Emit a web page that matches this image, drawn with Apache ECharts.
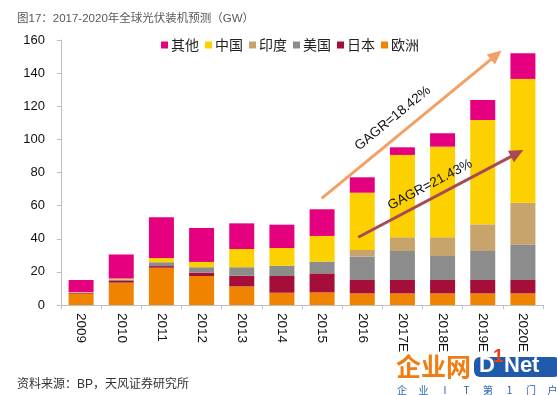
<!DOCTYPE html>
<html><head><meta charset="utf-8">
<script src="https://cdn.jsdelivr.net/npm/echarts@6/dist/echarts.min.js"></script>
<style>html,body{margin:0;padding:0;background:#fff}#c{width:557px;height:395px}</style>
</head><body><div id="c"></div>
<script>
// ---- data ----
const categories = ['2009','2010','2011','2012','2013','2014','2015','2016','2017E','2018E','2019E','2020E'];
const europe = [6.8, 13.5, 22.5, 17.5, 11.2, 7.4, 7.6, 7.0, 7.0, 7.0, 7.0, 7.0];
const japan  = [0.4, 1.0, 1.0, 2.0, 6.5, 10.1, 11.5, 8.1, 8.1, 8.1, 8.1, 8.1];
const usa    = [0.4, 0.9, 2.3, 3.3, 5.1, 6.2, 7.1, 14.1, 17.5, 14.5, 17.5, 21.5];
const india  = [0, 0, 0, 0, 0, 0, 0, 4.0, 8.3, 11.3, 16.1, 25.2];
const china  = [0.2, 0.6, 2.6, 3.2, 11.0, 10.7, 15.5, 34.6, 49.7, 54.7, 63.0, 74.7];
const other  = [7.3, 14.5, 24.6, 20.5, 15.5, 14.1, 16.1, 9.3, 4.6, 8.1, 12.1, 15.5];
const yTicks = [0, 20, 40, 60, 80, 100, 120, 140, 160];
// annotations in data units: [category index, value]
const arrowA = {from: [5.99, 64.4], to: [10.47, 153.6], label: 'GAGR=18.42%', at: [7.76, 112.7]};
const arrowB = {from: [6.90, 40.9], to: [11.01, 93.6], label: 'GAGR=21.43%', at: [8.69, 72.6]};
const footerChars = ['企', '业', 'I', 'T', '第', '1', '门', '户'];

const FONT = '"Liberation Sans", Arial, "Noto Sans CJK SC", sans-serif';
const chart = echarts.init(document.getElementById('c'), null, {renderer: 'canvas'});

const colors = {
  '其他': '#E4007F', '中国': '#FDD000', '印度': '#C6A46C',
  '美国': '#8C8C8C', '日本': '#A50E38', '欧洲': '#F08300'
};
const stackOrder = [['欧洲', europe], ['日本', japan], ['美国', usa], ['印度', india], ['中国', china], ['其他', other]];

chart.setOption({
  animation: false,
  backgroundColor: '#fff',
  textStyle: {fontFamily: FONT},
  title: [{
    text: '图17：2017-2020年全球光伏装机预测（GW）',
    left: 12, top: 8,
    textStyle: {fontSize: 11.5, fontWeight: 'normal', color: '#595959', fontFamily: FONT}
  }, {
    text: '资料来源：BP，天风证券研究所',
    left: 12, top: 374,
    textStyle: {fontSize: 12, fontWeight: 'normal', color: '#333', fontFamily: FONT}
  }],
  legend: {
    data: ['其他', '中国', '印度', '美国', '日本', '欧洲'],
    left: 156, top: 33,
    icon: 'rect', itemWidth: 7, itemHeight: 7, itemGap: 6,
    textStyle: {fontSize: 14, color: '#222', fontFamily: '"Noto Sans CJK SC", sans-serif', padding: [0, 0, 0, -2]}
  },
  grid: {left: 61, right: 14, top: 40, bottom: 90, containLabel: false},
  xAxis: {
    type: 'category', data: categories,
    axisLine: {lineStyle: {color: '#BFBFBF', width: 1}},
    axisTick: {show: true, length: 4, lineStyle: {color: '#BFBFBF'}},
    axisLabel: {rotate: -90, margin: 8, fontSize: 13.5, color: '#111', fontFamily: FONT}
  },
  yAxis: {
    type: 'value', min: 0, max: 160, interval: 20,
    axisLine: {show: true, lineStyle: {color: '#BFBFBF', width: 1}},
    axisTick: {show: true, length: 4, lineStyle: {color: '#BFBFBF'}},
    splitLine: {show: false},
    axisLabel: {margin: 16, fontSize: 13, color: '#111', fontFamily: FONT,
      formatter: v => yTicks.indexOf(v) >= 0 ? String(v) : ''}
  },
  series: stackOrder.map(([name, arr]) => ({
    name, type: 'bar', stack: 'total', data: arr, barWidth: 25,
    itemStyle: {color: colors[name]}
  }))
});

// ---- annotations (converted from data units through the axes) ----
function toPx(p) {
  const x0 = chart.convertToPixel({xAxisIndex: 0}, categories[0]);
  const x1 = chart.convertToPixel({xAxisIndex: 0}, categories[1]);
  const y = chart.convertToPixel({yAxisIndex: 0}, p[1]);
  return [x0 + p[0] * (x1 - x0), y];
}
function arrow(a, color, headLen, headW, width) {
  const s = toPx(a.from), e = toPx(a.to);
  const dx = e[0] - s[0], dy = e[1] - s[1];
  const L = Math.sqrt(dx * dx + dy * dy), ux = dx / L, uy = dy / L;
  const bx = e[0] - ux * headLen, by = e[1] - uy * headLen;
  const px = -uy, py = ux;
  const c = toPx(a.at);
  const ang = Math.atan2(-dy, dx);
  return [
    {type: 'line', shape: {x1: s[0], y1: s[1], x2: bx + ux * 1, y2: by + uy * 1},
      style: {stroke: color, lineWidth: width}, z: 10},
    {type: 'polygon', shape: {points: [[e[0], e[1]], [bx + px * headW / 2, by + py * headW / 2], [bx - px * headW / 2, by - py * headW / 2]]},
      style: {fill: color}, z: 10},
    {type: 'text', x: c[0], y: c[1], rotation: ang, z: 11,
      style: {text: a.label, fill: '#111', font: '13.5px ' + FONT, align: 'center', verticalAlign: 'middle'}}
  ];
}

const g = [].concat(
  arrow(arrowA, '#F2A063', 14, 13, 3),
  arrow(arrowB, '#A84A56', 14, 13, 3),
  [
    {type: 'text', x: 396, y: 354, z: 5,
      style: {text: '企业网', fill: '#F07C12', font: 'bold 25px "Noto Sans CJK SC", sans-serif'}},
    {type: 'rect', shape: {x: 474, y: 357, width: 86, height: 20, r: 6}, style: {fill: '#1F5BAA'}, z: 5},
    {type: 'text', x: 479, y: 355, z: 6,
      style: {text: 'D', fill: '#fff', font: 'bold 22px "Liberation Sans", Arial, sans-serif'}},
    {type: 'text', x: 493, y: 347, z: 7,
      style: {text: '1', fill: '#E8401A', font: 'bold 19px "Liberation Sans", Arial, sans-serif'}},
    {type: 'text', x: 504, y: 355, z: 6,
      style: {text: 'Net', fill: '#fff', font: 'bold 22px "Liberation Sans", Arial, sans-serif'}}
  ],
  footerChars.map((ch, i) => ({
    type: 'text', x: 402 + i * 21.5, y: 385, z: 5,
    style: {text: ch, fill: '#2A64B0', font: '10px "Noto Sans CJK SC", sans-serif', align: 'center'}
  }))
);
chart.setOption({graphic: g});
</script></body></html>
